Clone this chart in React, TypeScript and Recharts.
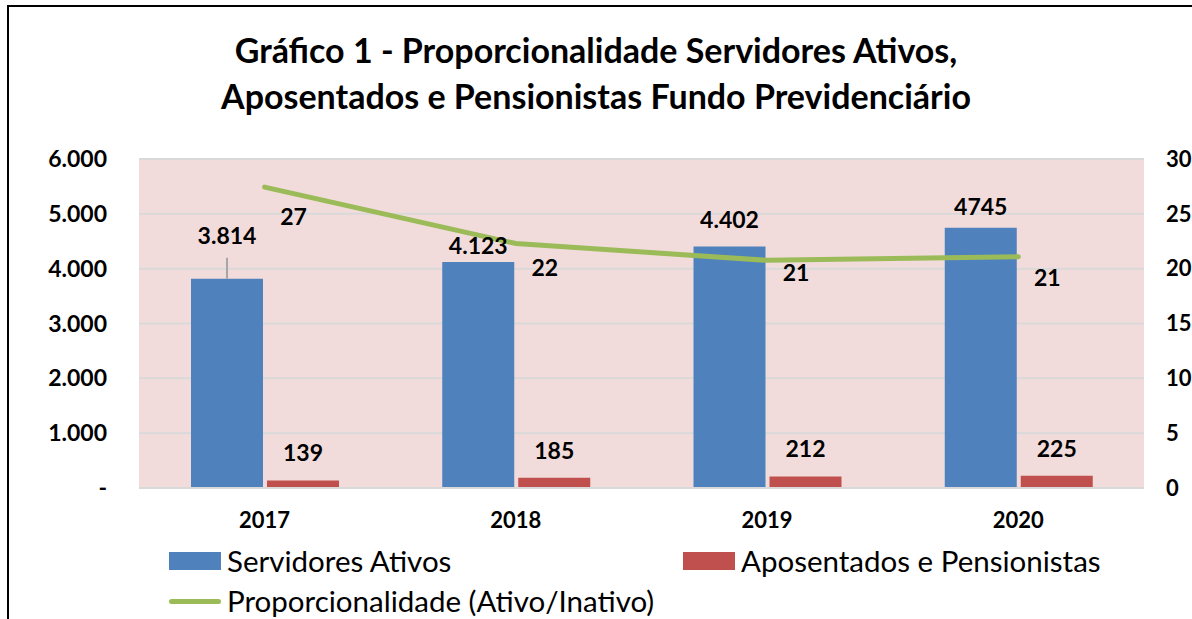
import { ComposedChart, Bar, Line, XAxis, YAxis, CartesianGrid, LabelList } from 'recharts';

const anos = ['2017', '2018', '2019', '2020'];
const servidoresAtivos = [3814, 4123, 4402, 4745];
const aposentadosPensionistas = [139, 185, 212, 225];
const proporcionalidade = [27.44, 22.29, 20.76, 21.09];
const rotulosAtivos = ['3.814', '4.123', '4.402', '4745'];
const rotulosProporcao = ['27', '22', '21', '21'];
const ticksEsquerda = [0, 1000, 2000, 3000, 4000, 5000, 6000];
const ticksDireita = [0, 5, 10, 15, 20, 25, 30];

const data = anos.map((ano, i) => ({
  ano,
  ativos: servidoresAtivos[i],
  inativos: aposentadosPensionistas[i],
  prop: proporcionalidade[i],
}));

// rotulos arrastados a mao no grafico original
const distAtivos = [44, 17, 28, 22];
const distProporcao = [29, 23, 12, 20];

const FONT = 'Lato, "Open Sans", sans-serif';
const AZUL = '#4F81BD';
const VERMELHO = '#C0504D';
const VERDE = '#9BBB59';

const fmtMilhar = (v: number) =>
  v === 0 ? '-' : String(v).replace(/\B(?=(\d{3})+(?!\d))/g, '.');

const txt = { fontFamily: FONT, fontSize: 23, fontWeight: 700, fill: '#000' };

const RotuloAtivos = (props: any) => {
  const { x, y, width, index } = props;
  const cx = x + width / 2;
  const cy = y - distAtivos[index];
  return (
    <g>
      {index === 0 && <line x1={cx} x2={cx} y1={y} y2={y - 21} stroke="#A6A6A6" strokeWidth={2} />}
      <text x={cx} y={cy} textAnchor="middle" dominantBaseline="central" {...txt}>
        {rotulosAtivos[index]}
      </text>
    </g>
  );
};

const RotuloInativos = (props: any) => {
  const { x, y, width, value } = props;
  return (
    <text x={x + width / 2} y={y - 28} textAnchor="middle" dominantBaseline="central" {...txt}>
      {value}
    </text>
  );
};

const RotuloProporcao = (props: any) => {
  const { x, y, index } = props;
  return (
    <text x={x + 29} y={y + distProporcao[index]} textAnchor="middle" dominantBaseline="central" {...txt}>
      {rotulosProporcao[index]}
    </text>
  );
};

const legendaTexto = {
  position: 'absolute' as const,
  fontSize: 29.5,
  lineHeight: '36px',
  color: '#000',
  whiteSpace: 'nowrap' as const,
};

export default function App() {
  return (
    <div
      style={{
        position: 'absolute', left: 0, top: 0, width: 1192, height: 619,
        background: '#fff', overflow: 'hidden', fontFamily: FONT,
      }}
    >
      <div style={{ position: 'absolute', left: 7, top: 5, width: 1185, height: 2, background: '#000' }} />
      <div style={{ position: 'absolute', left: 7, top: 5, width: 2, height: 614, background: '#000' }} />

      <div
        style={{
          position: 'absolute', left: 0, width: 1192, top: 27, textAlign: 'center',
          fontSize: 34, fontWeight: 700, lineHeight: '46px', color: '#000',
        }}
      >
        Gráfico 1 - Proporcionalidade Servidores Ativos,
        <br />
        Aposentados e Pensionistas Fundo Previdenciário
      </div>

      <ComposedChart
        width={1192}
        height={619}
        data={data}
        margin={{ top: 159, right: 0, bottom: 91, left: 39 }}
        style={{ position: 'absolute', left: 0, top: 0 }}
      >
        <CartesianGrid vertical={false} stroke="#D9D9D9" strokeWidth={2} fill="#F2DCDB" fillOpacity={1} yAxisId="esq" />
        <XAxis
          dataKey="ano"
          height={40}
          tickSize={0}
          tickMargin={24}
          axisLine={{ stroke: '#D9D9D9', strokeWidth: 2 }}
          tickLine={false}
          tick={{ ...txt, fontSize: 22 }}
        />
        <YAxis
          yAxisId="esq"
          width={100}
          domain={[0, 6000]}
          ticks={ticksEsquerda}
          tickFormatter={fmtMilhar}
          tickSize={0}
          tickMargin={32}
          axisLine={false}
          tickLine={false}
          tick={txt}
        />
        <YAxis
          yAxisId="dir"
          orientation="right"
          width={48}
          domain={[0, 30]}
          ticks={ticksDireita}
          tickSize={0}
          tickMargin={22}
          axisLine={false}
          tickLine={false}
          tick={{ ...txt, fontSize: 22, textAnchor: 'start' }}
        />
        <Bar yAxisId="esq" dataKey="ativos" name="Servidores Ativos" fill={AZUL} barSize={72} isAnimationActive={false}>
          <LabelList dataKey="ativos" content={RotuloAtivos} />
        </Bar>
        <Bar yAxisId="esq" dataKey="inativos" name="Aposentados e Pensionistas" fill={VERMELHO} barSize={72} isAnimationActive={false}>
          <LabelList dataKey="inativos" content={RotuloInativos} />
        </Bar>
        <Line
          yAxisId="dir"
          dataKey="prop"
          name="Proporcionalidade (Ativo/Inativo)"
          stroke={VERDE}
          strokeWidth={5}
          strokeLinecap="round"
          dot={false}
          activeDot={false}
          type="linear"
          isAnimationActive={false}
        >
          <LabelList dataKey="prop" content={RotuloProporcao} />
        </Line>
      </ComposedChart>

      <div style={{ position: 'absolute', left: 169, top: 552, width: 52, height: 18, background: AZUL }} />
      <div style={{ ...legendaTexto, left: 227, top: 543 }}>Servidores Ativos</div>
      <div style={{ position: 'absolute', left: 683, top: 552, width: 52, height: 18, background: VERMELHO }} />
      <div style={{ ...legendaTexto, left: 741, top: 543 }}>Aposentados e Pensionistas</div>
      <div style={{ position: 'absolute', left: 169, top: 599, width: 52, height: 5, borderRadius: 3, background: VERDE }} />
      <div style={{ ...legendaTexto, left: 227, top: 583 }}>Proporcionalidade (Ativo/Inativo)</div>
    </div>
  );
}
